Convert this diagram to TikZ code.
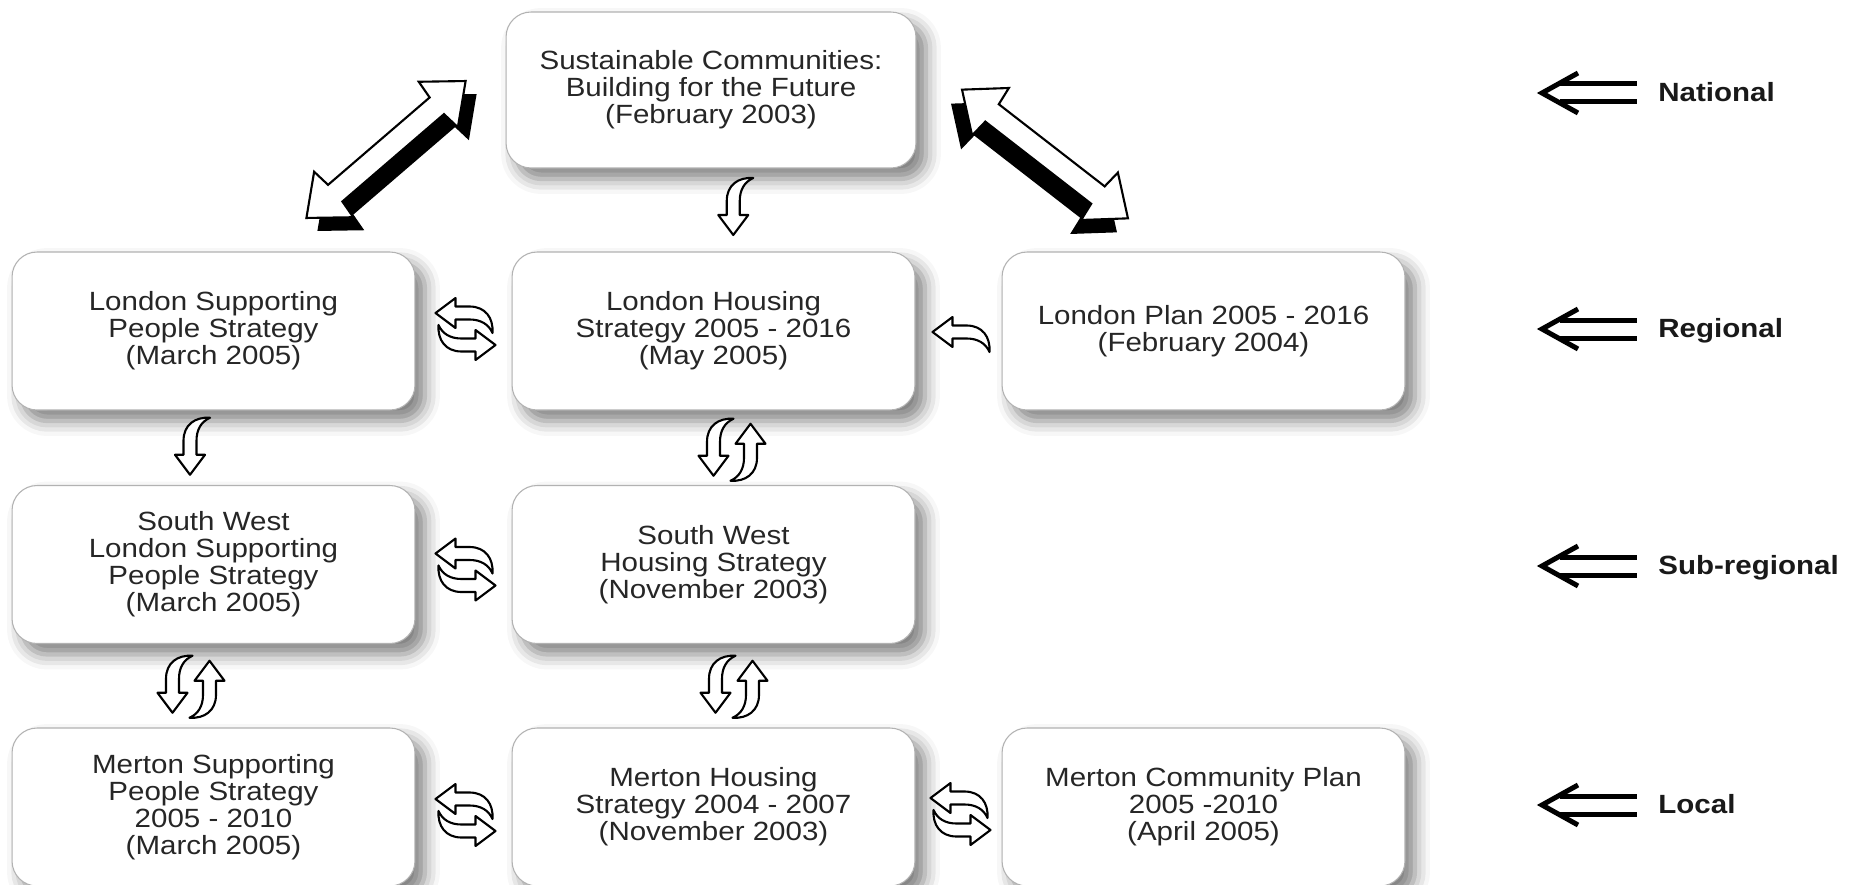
\documentclass[tikz,border=0pt]{standalone}
\usepackage{fontspec}
\setmainfont{Liberation Sans}[FakeStretch=1.12]
\usetikzlibrary{calc,shadows.blur}

\begin{document}
\begin{tikzpicture}[x=0.02cm, y=-0.02cm,
  box/.style={draw=black!30, line width=0.6pt, fill=white, rounded corners=0.5cm,
    minimum width=8.06cm, minimum height=3.16cm, align=center, text=black!85,
    font=\fontsize{15}{15.4}\selectfont,
    blur shadow={shadow xshift=0.2cm, shadow yshift=-0.22cm, shadow blur radius=0.3cm, shadow opacity=50}},
  lvl/.style={anchor=west, inner sep=0pt, text height=10.3pt, text depth=0.5pt,
    font=\fontsize{15}{18}\selectfont\bfseries, text=black!90},
  curvy/.pic={\draw[line width=1.2pt, fill=white, line join=round]
      (-28,0) -- (-8,-15) -- (-8,-6.5) -- (6,-6.5) .. controls (22,-6.5) and (30,5) .. (29,20)
      .. controls (25,11) and (17,6.5) .. (6,6.5) -- (-8,6.5) -- (-8,15) -- cycle;},
  swapper/.pic={\pic at (-1,-16) {curvy}; \pic[rotate=180] at (3,16) {curvy};},
  updown/.pic={\pic[rotate=90] at (-18,-1) {curvy}; \pic[rotate=-90] at (19,3) {curvy};},
  fatarrow/.pic={\path[pic actions] (-105,0) -- (-69,-30) -- (-67,-11) -- (67,-11) -- (69,-30)
      -- (105,0) -- (69,30) -- (67,11) -- (-67,11) -- (-69,30) -- cycle;},
  levelarrow/.pic={\draw[line width=0.1cm] (36,-20) -- (0,0) -- (36,20);
      \draw[line width=0.1cm] (18,-9) -- (95,-9) (18,9) -- (95,9);}
]
\useasboundingbox (0,0) rectangle (1858,885);

% national
\node[box, minimum width=8.2cm, minimum height=3.12cm] (sc) at (711,90)
  {Sustainable Communities:\\Building for the Future\\(February 2003)};

% regional
\node[box] (lsp) at (213.5,331) {London Supporting\\People Strategy\\(March 2005)};
\node[box] (lhs) at (713.5,331) {London Housing\\Strategy 2005 - 2016\\(May 2005)};
\node[box] (lp)  at (1203.5,331) {London Plan 2005 - 2016\\(February 2004)};

% sub-regional
\node[box] (swlsp) at (213.5,564.5) {South West\\London Supporting\\People Strategy\\(March 2005)};
\node[box] (swhs)  at (713.5,564.5) {South West\\Housing Strategy\\(November 2003)};

% local
\node[box] (msp) at (213.5,807) {Merton Supporting\\People Strategy\\2005 - 2010\\(March 2005)};
\node[box] (mhs) at (713.5,807) {Merton Housing\\Strategy 2004 - 2007\\(November 2003)};
\node[box] (mcp) at (1203.5,807) {Merton Community Plan\\2005 -2010\\(April 2005)};

%------------------------------------------------------
% big arrows
\coordinate (bigl) at ($(sc.west)+(-119.5,59.5)$);
\coordinate (bigr) at ($(sc.east)+(128.5,64)$);
\pic[rotate=40.7, fill=black] at ($(bigl)+(11,13)$) {fatarrow};
\pic[rotate=40.7, draw=black, fill=white, line width=1.2pt] at (bigl) {fatarrow};
\pic[rotate=-37.8, fill=black] at ($(bigr)+(-11,14)$) {fatarrow};
\pic[rotate=-37.8, draw=black, fill=white, line width=1.2pt] at (bigr) {fatarrow};

% small arrows
\pic[rotate=90] at ($(sc.south)!0.5!(lhs.north)+(21,-3)$) {curvy};
\pic at ($(lsp.east)!0.5!(lhs.west)+(1,-2)$) {swapper};
\pic at ($(lhs.east)!0.5!(lp.west)+(2,1)$) {curvy};
\pic[rotate=90] at ($(lsp.south)!0.5!(swlsp.north)+(-23.5,-1)$) {curvy};
\pic at ($(lhs.south)!0.5!(swhs.north)+(18,1)$) {updown};
\pic at ($(swlsp.east)!0.5!(swhs.west)+(1,5)$) {swapper};
\pic at ($(swlsp.south)!0.5!(msp.north)+(-23,0)$) {updown};
\pic at ($(swhs.south)!0.5!(mhs.north)+(20,0)$) {updown};
\pic at ($(msp.east)!0.5!(mhs.west)+(1,8)$) {swapper};
\pic at ($(mhs.east)!0.5!(mcp.west)+(1,7)$) {swapper};

% levels
\node[lvl] (natl) at (1658,93) {National};
\node[lvl] (regl) at (1658,329) {Regional};
\node[lvl] (subl) at (1658,566) {Sub-regional};
\node[lvl] (locl) at (1658,805) {Local};
\foreach \lv in {natl,regl,subl,locl}
  \pic at ($(\lv.west)+(-116,0)$) {levelarrow};
\end{tikzpicture}
\end{document}
